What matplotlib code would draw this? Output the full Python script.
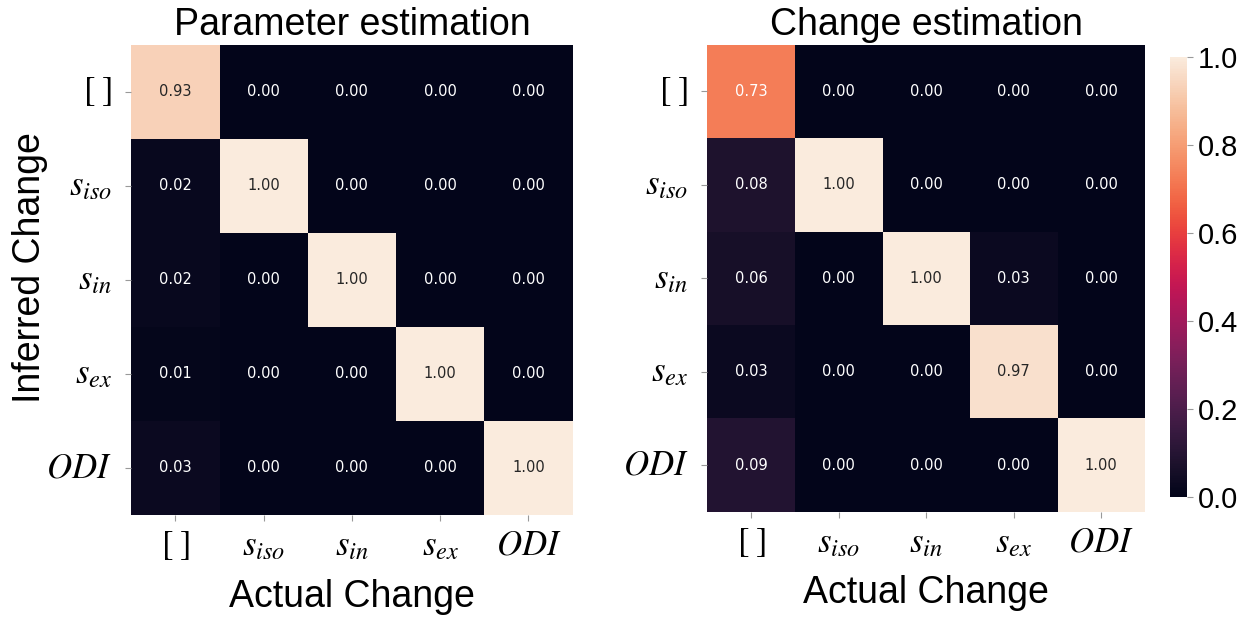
import matplotlib
matplotlib.use("Agg")
import matplotlib.pyplot as plt
import numpy as np
import seaborn as sns

labels = [r"$[\;]$", r"$s_{iso}$", r"$s_{in}$", r"$s_{ex}$", r"$ODI$"]

param_est = [
    [0.93, 0.00, 0.00, 0.00, 0.00],
    [0.02, 1.00, 0.00, 0.00, 0.00],
    [0.02, 0.00, 1.00, 0.00, 0.00],
    [0.01, 0.00, 0.00, 1.00, 0.00],
    [0.03, 0.00, 0.00, 0.00, 1.00],
]
change_est = [
    [0.73, 0.00, 0.00, 0.00, 0.00],
    [0.08, 1.00, 0.00, 0.00, 0.00],
    [0.06, 0.00, 1.00, 0.03, 0.00],
    [0.03, 0.00, 0.00, 0.97, 0.00],
    [0.09, 0.00, 0.00, 0.00, 1.00],
]

plt.rcParams["font.family"] = ["Liberation Sans", "DejaVu Sans"]
plt.rcParams["mathtext.fontset"] = "stix"

fig = plt.figure(figsize=(12.5, 6.22), dpi=100)
ax1 = fig.add_axes([0.105, 0.172, 0.353, 0.756])
ax2 = fig.add_axes([0.566, 0.177, 0.350, 0.751])
cax = fig.add_axes([0.936, 0.201, 0.0136, 0.707])

annot_kws = {"size": 10.5, "family": "DejaVu Sans"}
sns.heatmap(np.array(param_est), ax=ax1, cmap="rocket", vmin=0, vmax=1,
            annot=True, fmt=".2f", annot_kws=annot_kws, cbar=False,
            xticklabels=labels, yticklabels=labels)
sns.heatmap(np.array(change_est), ax=ax2, cmap="rocket", vmin=0, vmax=1,
            annot=True, fmt=".2f", annot_kws=annot_kws, cbar_ax=cax,
            xticklabels=labels, yticklabels=labels)

for ax, title in [(ax1, "Parameter estimation"), (ax2, "Change estimation")]:
    ax.set_title(title, fontsize=27, pad=7)
    ax.set_xlabel("Actual Change", fontsize=27, labelpad=12)
    ax.tick_params(axis="both", labelsize=25, color="#999999", length=4)
    ax.tick_params(axis="x", pad=6)
    ax.tick_params(axis="y", pad=10)
    plt.setp(ax.get_yticklabels(), rotation=0)
    plt.setp(ax.get_xticklabels(), rotation=0)

# y label placed by hand so it stays inside the figure
fig.text(0.024, 0.57, "Inferred Change", fontsize=27, rotation=90,
         ha="center", va="center")

cax.tick_params(labelsize=21, color="#999999", length=4)
cax.set_yticks([0.0, 0.2, 0.4, 0.6, 0.8, 1.0])

fig.savefig("out.png", dpi=100)
plt.close(fig)
